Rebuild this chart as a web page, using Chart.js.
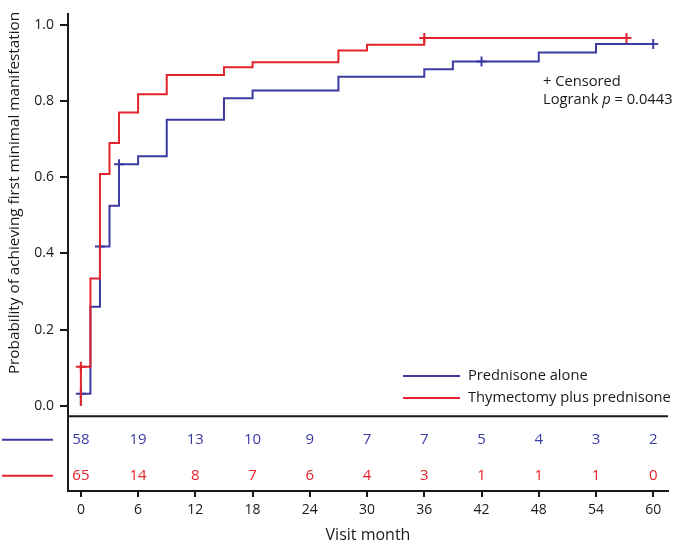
<!DOCTYPE html>
<html>
<head>
<meta charset="utf-8">
<script src="https://cdn.jsdelivr.net/npm/chart.js@4.4.1/dist/chart.umd.min.js"></script>
<style>
  html, body { margin: 0; padding: 0; background: #fff; }
  #wrap { width: 675px; height: 545px; position: relative; }
</style>
</head>
<body>
<div id="wrap"><canvas id="c" width="675" height="545"></canvas></div>
<script>
// ---- data ----
const tickMonths = [0, 6, 12, 18, 24, 30, 36, 42, 48, 54, 60];
const yTickValues = [0, 0.2, 0.4, 0.6, 0.8, 1.0];

const seriesNames = ['Prednisone alone', 'Thymectomy plus prednisone'];

const predTimes = [0, 0, 1, 2, 3, 4, 6, 9, 15, 18, 27, 36, 39, 48, 54, 60];
const predProb  = [0, 0.031, 0.26, 0.418, 0.525, 0.634, 0.655, 0.751, 0.808, 0.828, 0.864, 0.884, 0.904, 0.928, 0.95, 0.95];
const predCensorTimes = [0, 2, 4, 42, 60];
const predCensorProb  = [0.031, 0.418, 0.634, 0.904, 0.95];

const thymTimes = [0, 0, 1, 2, 3, 4, 6, 9, 15, 18, 27, 30, 36, 57.2];
const thymProb  = [0, 0.102, 0.334, 0.609, 0.69, 0.77, 0.818, 0.869, 0.889, 0.902, 0.933, 0.948, 0.966, 0.966];
const thymCensorTimes = [0, 36, 57.2];
const thymCensorProb  = [0.102, 0.966, 0.966];

const atRiskPred = [58, 19, 13, 10, 9, 7, 7, 5, 4, 3, 2];
const atRiskThym = [65, 14, 8, 7, 6, 4, 3, 1, 1, 1, 0];

const annotationLines = ['+ Censored', 'Logrank p = 0.0443'];

// ---- styles ----
const BLUE = '#3b3ba3';
const RED = '#e3232b';
const INK = '#1a1a1a';
const FONT = "'Open Sans', 'DejaVu Sans', sans-serif";

const pts = (xs, ys) => xs.map((x, i) => ({ x: x, y: ys[i] }));

const overlay = {
  id: 'overlay',
  afterDraw(chart) {
    const ctx = chart.ctx;
    const xs = chart.scales.x, ys = chart.scales.y;
    const area = chart.chartArea;
    ctx.save();
    // divider between plot and risk table
    const divY = ys.getPixelForValue(-0.028);
    ctx.strokeStyle = INK;
    ctx.lineWidth = 2;
    ctx.beginPath();
    ctx.moveTo(area.left, divY);
    ctx.lineTo(area.right, divY);
    ctx.stroke();

    // risk table
    const rowPred = ys.getPixelForValue(-0.0895);
    const rowThym = ys.getPixelForValue(-0.184);
    ctx.font = '15px ' + FONT;
    ctx.textAlign = 'center';
    ctx.textBaseline = 'middle';
    tickMonths.forEach((m, i) => {
      const px = xs.getPixelForValue(m);
      ctx.fillStyle = BLUE;
      ctx.fillText(String(atRiskPred[i]), px, rowPred);
      ctx.fillStyle = RED;
      ctx.fillText(String(atRiskThym[i]), px, rowThym);
    });
    ctx.lineWidth = 2;
    ctx.strokeStyle = BLUE;
    ctx.beginPath(); ctx.moveTo(2, rowPred); ctx.lineTo(53, rowPred); ctx.stroke();
    ctx.strokeStyle = RED;
    ctx.beginPath(); ctx.moveTo(2, rowThym); ctx.lineTo(53, rowThym); ctx.stroke();

    // legend
    const legX0 = 403, legX1 = 460, legText = 468;
    const legY = [376, 398];
    ctx.font = '14.7px ' + FONT;
    [BLUE, RED].forEach((c, i) => {
      ctx.strokeStyle = c;
      ctx.beginPath(); ctx.moveTo(legX0, legY[i]); ctx.lineTo(legX1, legY[i]); ctx.stroke();
      ctx.fillStyle = INK;
      ctx.textAlign = 'left';
      ctx.fillText(seriesNames[i], legText, legY[i]);
    });

    // annotation
    ctx.fillStyle = INK;
    ctx.textAlign = 'left';
    ctx.font = '14.7px ' + FONT;
    ctx.fillText(annotationLines[0], 543, 82);
    let x = 543;
    const parts = annotationLines[1].split('p');
    ctx.fillText(parts[0], x, 100);
    x += ctx.measureText(parts[0]).width;
    ctx.font = 'italic 14.7px ' + FONT;
    ctx.fillText('p', x, 100);
    x += ctx.measureText('p').width;
    ctx.font = '14.7px ' + FONT;
    ctx.fillText(parts[1], x, 100);

    // y-axis title
    ctx.save();
    ctx.translate(15, 193);
    ctx.rotate(-Math.PI / 2);
    ctx.textAlign = 'center';
    ctx.textBaseline = 'middle';
    ctx.font = '15.3px ' + FONT;
    ctx.fillStyle = INK;
    ctx.fillText('Probability of achieving first minimal manifestation', 0, 0);
    ctx.restore();

    ctx.restore();
  }
};

new Chart(document.getElementById('c'), {
  type: 'line',
  data: {
    datasets: [
      { label: 'thymCensor', data: pts(thymCensorTimes, thymCensorProb), showLine: false,
        pointStyle: 'cross', pointRadius: 5, pointBorderWidth: 2, borderColor: RED, backgroundColor: RED, pointHoverRadius: 5 },
      { label: seriesNames[1], data: pts(thymTimes, thymProb), stepped: 'before',
        borderColor: RED, borderWidth: 2, pointRadius: 0, fill: false },
      { label: 'predCensor', data: pts(predCensorTimes, predCensorProb), showLine: false,
        pointStyle: 'cross', pointRadius: 5, pointBorderWidth: 2, borderColor: BLUE, backgroundColor: BLUE, pointHoverRadius: 5 },
      { label: seriesNames[0], data: pts(predTimes, predProb), stepped: 'before',
        borderColor: BLUE, borderWidth: 2, pointRadius: 0, fill: false }
    ]
  },
  options: {
    responsive: false,
    animation: false,
    devicePixelRatio: 1,
    layout: { padding: 0 },
    plugins: { legend: { display: false }, tooltip: { enabled: false } },
    scales: {
      x: {
        type: 'linear',
        min: -1.35,
        max: 61.55,
        afterBuildTicks: s => { s.ticks = tickMonths.map(v => ({ value: v })); },
        afterFit: s => { s.height = 54; },
        ticks: { font: { family: FONT, size: 14 }, color: INK, padding: 5, maxRotation: 0, autoSkip: false },
        grid: { drawOnChartArea: false, tickLength: 6, color: INK, lineWidth: 2 },
        border: { color: INK, width: 2 },
        title: { display: true, text: 'Visit month', font: { family: FONT, size: 16 }, color: INK, padding: { top: 0, bottom: 0 } }
      },
      y: {
        type: 'linear',
        min: -0.2242,
        max: 1.028,
        afterBuildTicks: s => { s.ticks = yTickValues.map(v => ({ value: v })); },
        afterFit: s => { s.width = 68; },
        ticks: { font: { family: FONT, size: 14 }, color: INK, padding: 6, callback: v => Number(v).toFixed(1) },
        grid: { drawOnChartArea: false, tickLength: 8, color: INK, lineWidth: 2 },
        border: { color: INK, width: 2 }
      }
    }
  },
  plugins: [overlay]
});
</script>
</body>
</html>
